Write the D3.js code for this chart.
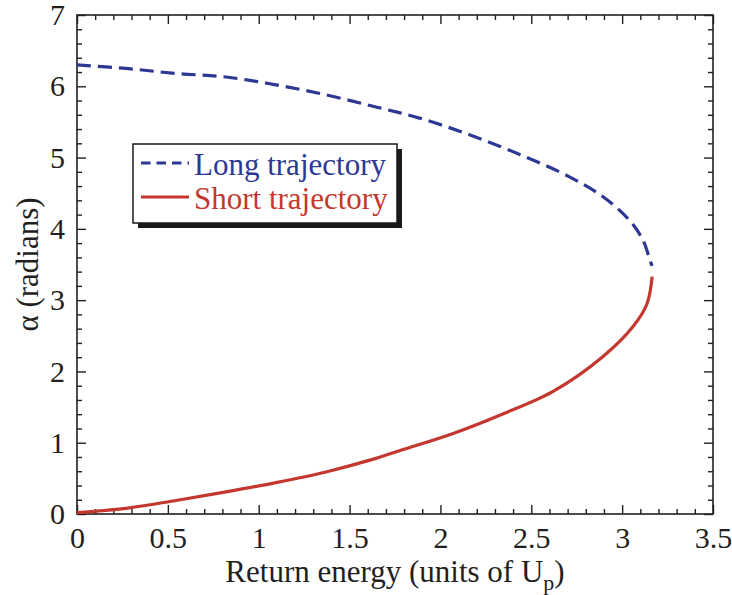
<!DOCTYPE html>
<html>
<head>
<meta charset="utf-8">
<script src="https://cdn.jsdelivr.net/npm/d3@7"></script>
<style>
  html, body { margin: 0; padding: 0; background: #fff; }
  svg { display: block; }
  text { font-family: "Liberation Serif", "Times New Roman", serif; fill: #231f20; }
</style>
</head>
<body>
<svg id="chart" width="732" height="595"></svg>
<script>
// Phase of the harmonic dipole vs. return energy
const longEnergy  = [0, 0.27, 0.545, 0.82, 1.095, 1.37, 1.645, 1.89, 2.16, 2.44, 2.71, 2.895, 3.04, 3.115, 3.153, 3.165];
const longAlpha   = [6.30, 6.25, 6.18, 6.13, 6.02, 5.88, 5.71, 5.55, 5.32, 5.04, 4.73, 4.45, 4.12, 3.84, 3.56, 3.48];
const shortEnergy = [0, 0.27, 0.545, 0.82, 1.095, 1.37, 1.645, 1.79, 2.07, 2.34, 2.62, 2.895, 3.06, 3.137, 3.165];
const shortAlpha  = [0.02, 0.08, 0.19, 0.31, 0.44, 0.59, 0.78, 0.90, 1.13, 1.40, 1.72, 2.21, 2.63, 2.95, 3.33];
const xTicks = [0, 0.5, 1, 1.5, 2, 2.5, 3, 3.5];
const yTicks = [0, 1, 2, 3, 4, 5, 6, 7];
const legendLabels = ["Long trajectory", "Short trajectory"];
const seriesColors = ["#2d3794", "#c3372e"];

const svg = d3.select("#chart");
const plotL = 77, plotR = 713, plotT = 15, plotB = 514;

const x = d3.scaleLinear().domain([0, 3.5]).range([plotL, plotR]);
const y = d3.scaleLinear().domain([0, 7]).range([plotB, plotT]);

const axisColor = "#231f20";
const majorLen = 9, minorLen = 5;
const tickFont = 30, titleFont = 31;

// minor tick positions
const xMinor = d3.range(0, 3.5001, 0.1).filter(v => Math.abs(v * 2 - Math.round(v * 2)) > 1e-6);
const yMinor = d3.range(0, 7.0001, 0.2).filter(v => Math.abs(v - Math.round(v)) > 1e-6);

function styleAxis(g) {
  g.select(".domain").remove();
  g.selectAll(".tick line").attr("stroke", axisColor).attr("stroke-width", 1.4);
}

// inward ticks on all four sides
const axes = svg.append("g");
axes.append("g").attr("transform", `translate(0,${plotB})`)
  .call(d3.axisBottom(x).tickValues(xTicks).tickSize(-majorLen).tickFormat(d3.format("")).tickPadding(13))
  .call(styleAxis)
  .call(g => g.selectAll("text").attr("font-size", tickFont).attr("dy", "0.71em").attr("fill", axisColor));
axes.append("g").attr("transform", `translate(0,${plotB})`)
  .call(d3.axisBottom(x).tickValues(xMinor).tickSize(-minorLen).tickFormat(""))
  .call(styleAxis);
axes.append("g").attr("transform", `translate(0,${plotT})`)
  .call(d3.axisTop(x).tickValues(xTicks).tickSize(-majorLen).tickFormat(""))
  .call(styleAxis);
axes.append("g").attr("transform", `translate(0,${plotT})`)
  .call(d3.axisTop(x).tickValues(xMinor).tickSize(-minorLen).tickFormat(""))
  .call(styleAxis);
axes.append("g").attr("transform", `translate(${plotL},0)`)
  .call(d3.axisLeft(y).tickValues(yTicks).tickSize(-majorLen).tickFormat(d3.format("d")).tickPadding(12))
  .call(styleAxis)
  .call(g => g.selectAll("text").attr("font-size", tickFont).attr("fill", axisColor));
axes.append("g").attr("transform", `translate(${plotL},0)`)
  .call(d3.axisLeft(y).tickValues(yMinor).tickSize(-minorLen).tickFormat(""))
  .call(styleAxis);
axes.append("g").attr("transform", `translate(${plotR},0)`)
  .call(d3.axisRight(y).tickValues(yTicks).tickSize(-majorLen).tickFormat(""))
  .call(styleAxis);
axes.append("g").attr("transform", `translate(${plotR},0)`)
  .call(d3.axisRight(y).tickValues(yMinor).tickSize(-minorLen).tickFormat(""))
  .call(styleAxis);

// frame
svg.append("rect")
  .attr("x", plotL).attr("y", plotT)
  .attr("width", plotR - plotL).attr("height", plotB - plotT)
  .attr("fill", "none").attr("stroke", axisColor).attr("stroke-width", 1.6);

// curves
const line = d3.line().x(d => x(d[0])).y(d => y(d[1])).curve(d3.curveCatmullRom.alpha(0.5));
const longPts = longEnergy.map((e, i) => [e, longAlpha[i]]);
const shortPts = shortEnergy.map((e, i) => [e, shortAlpha[i]]);

svg.append("path").datum(longPts).attr("d", line)
  .attr("fill", "none").attr("stroke", seriesColors[0]).attr("stroke-width", 3.2)
  .attr("stroke-dasharray", "14,7");
svg.append("path").datum(shortPts).attr("d", line)
  .attr("fill", "none").attr("stroke", seriesColors[1]).attr("stroke-width", 3.2);

// legend with drop shadow
const lg = svg.append("g");
const bx = 133, by = 144, bw = 264, bh = 79;
lg.append("rect").attr("x", bx + 5).attr("y", by + 5).attr("width", bw).attr("height", bh).attr("fill", "#1a1a1a");
lg.append("rect").attr("x", bx).attr("y", by).attr("width", bw).attr("height", bh)
  .attr("fill", "#fff").attr("stroke", "#1a1a1a").attr("stroke-width", 1.5);
const rowsY = [163, 197];
legendLabels.forEach((lab, i) => {
  lg.append("line").attr("x1", 141).attr("x2", 189).attr("y1", rowsY[i]).attr("y2", rowsY[i])
    .attr("stroke", seriesColors[i]).attr("stroke-width", 3.2)
    .attr("stroke-dasharray", i === 0 ? "9.5,6" : null);
  lg.append("text").attr("x", 194).attr("y", rowsY[i] + 12)
    .attr("font-size", titleFont).style("fill", seriesColors[i]).text(lab);
});

// axis titles
const xt = svg.append("text").attr("x", (plotL + plotR) / 2).attr("y", 582)
  .attr("text-anchor", "middle").attr("font-size", titleFont);
xt.append("tspan").text("Return energy (units of U");
xt.append("tspan").attr("font-size", 22).attr("dy", 8).text("p");
xt.append("tspan").attr("dy", -8).text(")");

svg.append("text")
  .attr("transform", `translate(38,${(plotT + plotB) / 2}) rotate(-90)`)
  .attr("text-anchor", "middle").attr("font-size", titleFont)
  .text("α (radians)");
</script>
</body>
</html>
